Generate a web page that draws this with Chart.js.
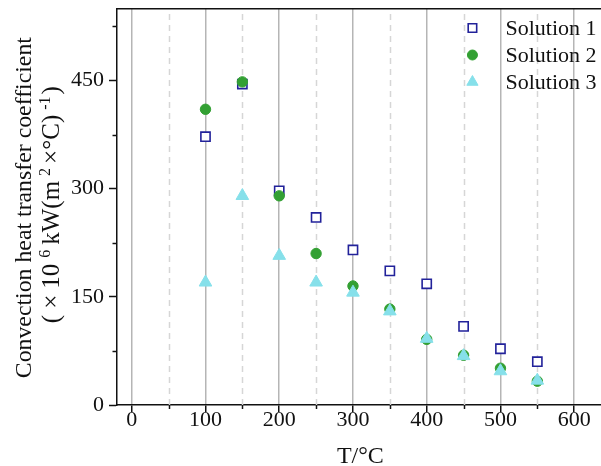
<!DOCTYPE html>
<html>
<head>
<meta charset="utf-8">
<script src="https://cdn.jsdelivr.net/npm/chart.js@4/dist/chart.umd.min.js"></script>
<style>
  html, body { margin: 0; padding: 0; background: #fff; overflow: hidden; }
  #wrap { width: 601px; height: 466px; position: relative; overflow: hidden; }
  #c { display: block; }
</style>
</head>
<body>
<div id="wrap"><canvas id="c" width="612" height="466"></canvas></div>
<script>
// ---- data ----
const temperatures = [100, 150, 200, 250, 300, 350, 400, 450, 500, 550];
const solution1 = [372, 445, 297, 260, 215, 186, 168, 109, 78, 60];
const solution2 = [410, 448, 290, 210, 165, 133, 91, 69, 51, 33];
const solution3 = [170, 290, 207, 170, 156, 130, 92, 68, 47, 34];
const seriesNames = ['Solution 1', 'Solution 2', 'Solution 3'];
const xTickValues = [0, 50, 100, 150, 200, 250, 300, 350, 400, 450, 500, 550, 600];
const xLabelValues = [0, 100, 200, 300, 400, 500, 600];
const yTickValues = [0, 75, 150, 225, 300, 375, 450, 525];
const yLabelValues = [0, 150, 300, 450];
const xTitle = 'T/°C';
const yTitleLine1 = 'Convection heat transfer coefficient';
// second line: [text, isSuperscript, gapAfter]
const yTitleLine2 = [['(', false, 6], ['×', false, 6], ['10', false, 6], ['6', true, 5], ['kW(m', false, 5],
                     ['2', true, 4], ['×°C)', false, 5], ['-1', true, 2], [')', false, 0]];

const FONT = "'Liberation Serif', 'Times New Roman', serif";
const pts = (arr) => temperatures.map((t, i) => ({x: t, y: arr[i]}));

const isMajorX = (v) => xLabelValues.includes(v);
const isMajorY = (v) => yLabelValues.includes(v);
const noPad = (s) => { s.paddingTop = 0; s.paddingBottom = 0; s.paddingLeft = 0; s.paddingRight = 0; };

// Plugin: dashed minor grid, minor tick marks, top frame, legend, y title
const decor = {
  id: 'decor',
  beforeDatasetsDraw(chart) {
    const {ctx, chartArea: a, scales: {x, y}} = chart;
    ctx.save();
    ctx.strokeStyle = '#d6d6d6';
    ctx.lineWidth = 1.5;
    ctx.setLineDash([6, 5]);
    xTickValues.filter(v => !isMajorX(v)).forEach(v => {
      const px = Math.round(x.getPixelForValue(v)) + 0.5;
      ctx.beginPath(); ctx.moveTo(px, a.bottom); ctx.lineTo(px, a.top); ctx.stroke();
    });
    ctx.setLineDash([]);
    ctx.strokeStyle = '#111';
    ctx.lineWidth = 1.5;
    xTickValues.filter(v => !isMajorX(v)).forEach(v => {
      const px = Math.round(x.getPixelForValue(v)) + 0.5;
      ctx.beginPath(); ctx.moveTo(px, a.bottom); ctx.lineTo(px, a.bottom + 4); ctx.stroke();
    });
    yTickValues.filter(v => !isMajorY(v)).forEach(v => {
      const py = Math.round(y.getPixelForValue(v)) + 0.5;
      ctx.beginPath(); ctx.moveTo(a.left, py); ctx.lineTo(a.left - 4.5, py); ctx.stroke();
    });
    ctx.beginPath();
    ctx.moveTo(a.left, a.top + 0.5); ctx.lineTo(a.right, a.top + 0.5);
    ctx.stroke();
    ctx.restore();
  },
  afterDatasetsDraw(chart) {
    const {ctx, chartArea: a, scales: {x}} = chart;
    ctx.save();
    // legend
    const markerX = x.getPixelForValue(462);
    const textX = markerX + 33;
    const rows = [28, 55, 82];
    chart.data.datasets.forEach((ds, i) => {
      const y = rows[i];
      const opts = { pointStyle: ds.pointStyle, radius: ds.legendRadius, borderWidth: ds.borderWidth, rotation: 0 };
      ctx.fillStyle = ds.backgroundColor;
      ctx.strokeStyle = ds.borderColor;
      ctx.lineWidth = ds.borderWidth;
      Chart.helpers.drawPoint(ctx, opts, markerX, y);
      ctx.fillStyle = '#111';
      ctx.font = '22px ' + FONT;
      ctx.textBaseline = 'middle';
      ctx.textAlign = 'left';
      ctx.fillText(ds.label, textX, y + 1);
    });
    ctx.restore();

    // y-axis title (two rotated lines)
    const cy = (a.top + a.bottom) / 2;
    ctx.save();
    ctx.fillStyle = '#111';
    ctx.textAlign = 'left';
    ctx.textBaseline = 'alphabetic';
    ctx.save();
    ctx.translate(31, cy + 1);
    ctx.rotate(-Math.PI / 2);
    ctx.font = '23.8px ' + FONT;
    const w1 = ctx.measureText(yTitleLine1).width;
    ctx.fillText(yTitleLine1, -w1 / 2, 0);
    ctx.restore();
    ctx.save();
    ctx.translate(59, cy - 2);
    ctx.rotate(-Math.PI / 2);
    const baseFont = '25px ' + FONT, supFont = '16px ' + FONT;
    let total = 0;
    yTitleLine2.forEach(([t, sup, gap]) => {
      ctx.font = sup ? supFont : baseFont;
      total += ctx.measureText(t).width + gap;
    });
    let cx = -total / 2;
    yTitleLine2.forEach(([t, sup, gap]) => {
      ctx.font = sup ? supFont : baseFont;
      ctx.fillText(t, cx, sup ? -9.5 : 0);
      cx += ctx.measureText(t).width + gap;
    });
    ctx.restore();
    ctx.restore();
  }
};

new Chart(document.getElementById('c'), {
  type: 'scatter',
  data: {
    datasets: [
      {
        label: seriesNames[0], data: pts(solution1), order: 3,
        pointStyle: 'rect', pointRadius: 6.5, legendRadius: 6,
        backgroundColor: '#ffffff', borderColor: '#22229a', borderWidth: 1.6,
        pointHoverRadius: 6.5
      },
      {
        label: seriesNames[1], data: pts(solution2), order: 2,
        pointStyle: 'circle', pointRadius: 5.2, legendRadius: 5,
        backgroundColor: '#33a033', borderColor: '#33a033', borderWidth: 1,
        pointHoverRadius: 5.2
      },
      {
        label: seriesNames[2], data: pts(solution3), order: 1,
        pointStyle: 'triangle', pointRadius: 7.3, legendRadius: 6.5,
        backgroundColor: '#86e0ea', borderColor: '#86e0ea', borderWidth: 1,
        pointHoverRadius: 7.3
      }
    ]
  },
  options: {
    responsive: false,
    animation: false,
    events: [],
    layout: { padding: { left: 0, top: 7, right: 0, bottom: 0 } },
    plugins: { legend: { display: false }, tooltip: { enabled: false } },
    scales: {
      x: {
        type: 'linear', min: -20, max: 640,
        afterBuildTicks: (s) => { s.ticks = xTickValues.map(v => ({value: v})); },
        afterFit: (s) => { s.height = 61; noPad(s); },
        border: { color: '#111', width: 1.5 },
        grid: {
          drawOnChartArea: true,
          color: (c) => isMajorX(c.tick.value) ? '#b5b5b5' : 'rgba(0,0,0,0)',
          lineWidth: 1.5,
          tickColor: (c) => isMajorX(c.tick.value) ? '#111' : 'rgba(0,0,0,0)',
          tickLength: 7,
          tickWidth: 1.5
        },
        ticks: {
          autoSkip: false, maxRotation: 0, padding: -3,
          color: '#111', font: { family: FONT, size: 22, lineHeight: 1.0 },
          callback: (v) => isMajorX(v) ? String(v) : ''
        },
        title: {
          display: true, text: xTitle, color: '#111',
          font: { family: FONT, size: 24, lineHeight: 1.0 },
          padding: { top: 0, bottom: -3 }
        }
      },
      y: {
        type: 'linear', min: 0, max: 550,
        afterBuildTicks: (s) => { s.ticks = yTickValues.map(v => ({value: v})); },
        afterFit: (s) => { s.width = 117; noPad(s); },
        border: { color: '#111', width: 1.5 },
        grid: {
          drawOnChartArea: false,
          tickColor: (c) => isMajorY(c.tick.value) ? '#111' : 'rgba(0,0,0,0)',
          tickLength: 8,
          tickWidth: 1.5
        },
        ticks: {
          autoSkip: false, padding: 5,
          color: '#111', font: { family: FONT, size: 22 },
          callback: (v) => isMajorY(v) ? String(v) : ''
        },
        title: { display: false }
      }
    }
  },
  plugins: [decor]
});
</script>
</body>
</html>
